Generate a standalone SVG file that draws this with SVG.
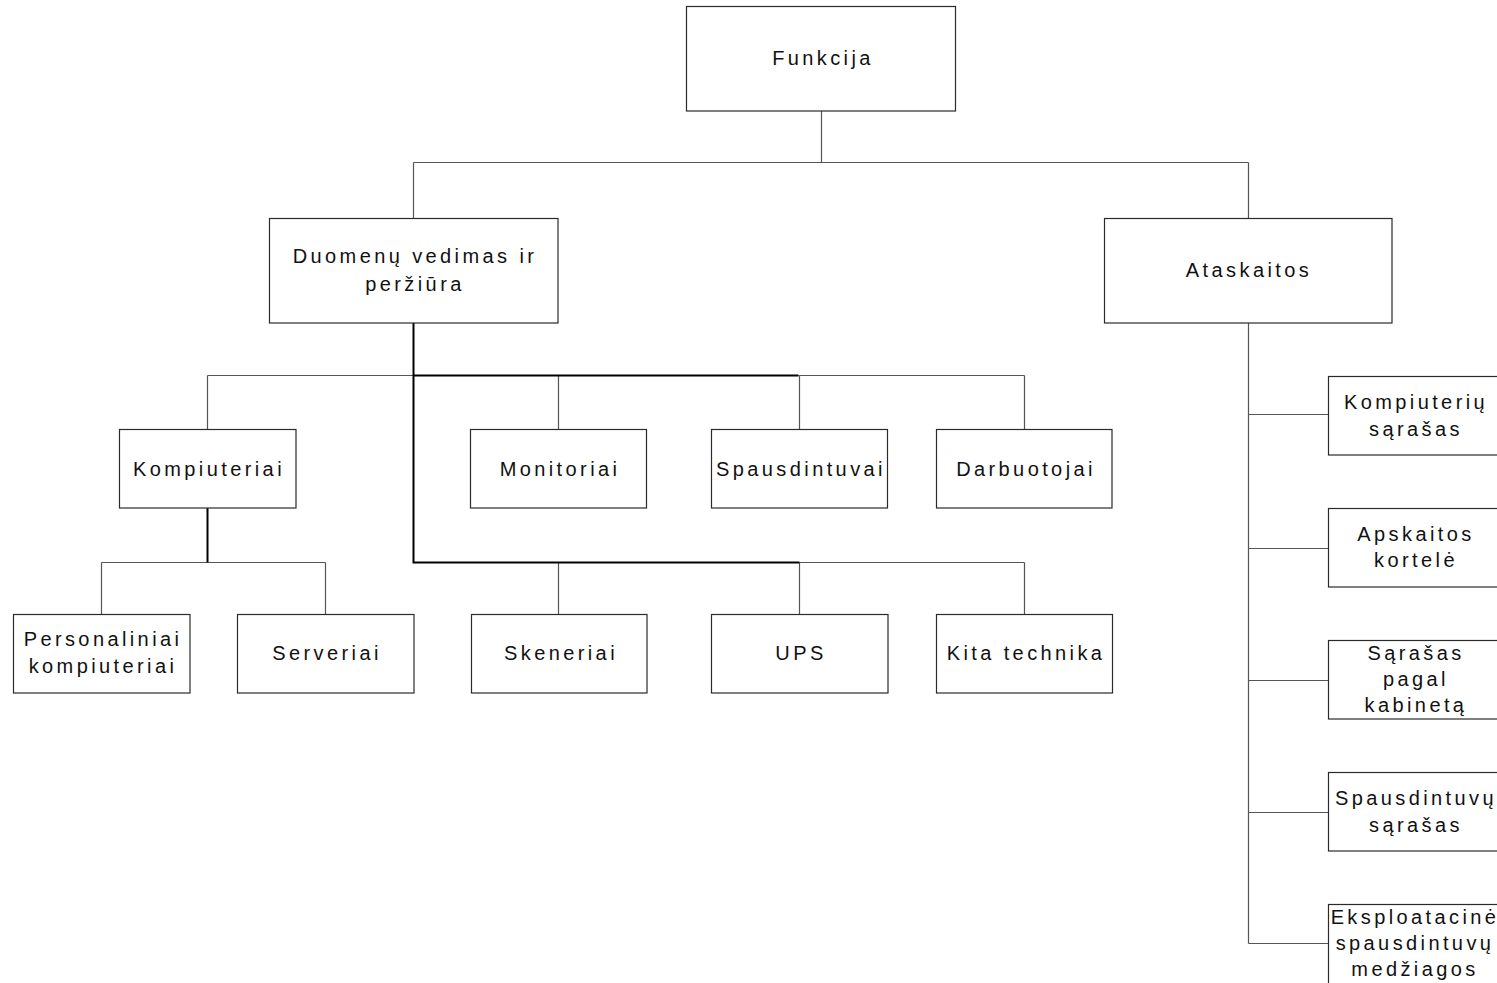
<svg xmlns="http://www.w3.org/2000/svg" width="1497" height="983" viewBox="0 0 1497 983">
  <style>
    .box { fill: #ffffff; stroke: #2b2b2b; stroke-width: 1.2; }
    .lbl { font-family: "Liberation Sans", Arial, sans-serif; font-size: 20px; letter-spacing: 3.4px; fill: #111111; text-anchor: middle; }
    .thin { fill: none; stroke: #555555; stroke-width: 1.2; }
    .thick { fill: none; stroke: #000000; stroke-width: 2; }
  </style>
  <rect width="1497" height="983" fill="#ffffff"/>

  <!-- connectors -->
  <g id="connectors">
    <path class="thin" d="M821.5 111 V162.5 M413.5 162.5 H1248.5 M413.5 162.5 V218 M1248.5 162.5 V218"/>
    <path class="thin" d="M207.5 375.5 H413.5 M798.5 375.5 H1024.5 M207.5 375.5 V429 M558.5 375.5 V429 M799.5 375.5 V429 M1024.5 375.5 V429"/>
    <path class="thin" d="M799.5 562.5 H1024.5 M558.5 562.5 V614 M799.5 562.5 V614 M1024.5 562.5 V614"/>
    <path class="thin" d="M101.5 562.5 H325.5 M101.5 562.5 V614 M325.5 562.5 V614"/>
    <path class="thick" d="M413.5 323 V562.5 H799.5 M413.5 375.5 H798.5 M207.5 508 V562.5"/>
    <path class="thin" d="M1248.5 323 V943.5 M1248.5 414.5 H1328 M1248.5 548.5 H1328 M1248.5 680.5 H1328 M1248.5 812.5 H1328 M1248.5 943.5 H1328"/>
  </g>

  <g id="funkcija">
    <rect class="box" x="686.5" y="6.5" width="269" height="104.5"/>
    <text class="lbl" x="823" y="65">Funkcija</text>
  </g>
  <g id="duomenu-vedimas">
    <rect class="box" x="269.5" y="218.5" width="288.5" height="104.5"/>
    <text class="lbl" x="415" y="263">Duomenų vedimas ir</text>
    <text class="lbl" x="415" y="291">peržiūra</text>
  </g>
  <g id="ataskaitos">
    <rect class="box" x="1104.5" y="218.5" width="287.5" height="104.5"/>
    <text class="lbl" x="1249" y="277">Ataskaitos</text>
  </g>

  <g id="kompiuteriai">
    <rect class="box" x="119.5" y="429.5" width="176.5" height="78.5"/>
    <text class="lbl" x="209" y="476">Kompiuteriai</text>
  </g>
  <g id="monitoriai">
    <rect class="box" x="470.5" y="429.5" width="176" height="78.5"/>
    <text class="lbl" x="560" y="476">Monitoriai</text>
  </g>
  <g id="spausdintuvai">
    <rect class="box" x="711.5" y="429.5" width="176" height="78.5"/>
    <text class="lbl" x="801" y="476">Spausdintuvai</text>
  </g>
  <g id="darbuotojai">
    <rect class="box" x="936.5" y="429.5" width="175.5" height="78.5"/>
    <text class="lbl" x="1026" y="476">Darbuotojai</text>
  </g>

  <g id="personaliniai">
    <rect class="box" x="13.5" y="614.5" width="176.5" height="78.5"/>
    <text class="lbl" x="103" y="646">Personaliniai</text>
    <text class="lbl" x="103" y="673">kompiuteriai</text>
  </g>
  <g id="serveriai">
    <rect class="box" x="237.5" y="614.5" width="176.5" height="78.5"/>
    <text class="lbl" x="327" y="660">Serveriai</text>
  </g>
  <g id="skeneriai">
    <rect class="box" x="471.5" y="614.5" width="175.5" height="78.5"/>
    <text class="lbl" x="561" y="660">Skeneriai</text>
  </g>
  <g id="ups">
    <rect class="box" x="711.5" y="614.5" width="176.5" height="78.5"/>
    <text class="lbl" x="801" y="660">UPS</text>
  </g>
  <g id="kita-technika">
    <rect class="box" x="936.5" y="614.5" width="176" height="78.5"/>
    <text class="lbl" x="1026" y="660">Kita technika</text>
  </g>

  <g id="kompiuteriu-sarasas">
    <rect class="box" x="1328.5" y="376.5" width="180" height="78.5"/>
    <text class="lbl" x="1416" y="409">Kompiuterių</text>
    <text class="lbl" x="1416" y="436">sąrašas</text>
  </g>
  <g id="apskaitos-kortele">
    <rect class="box" x="1328.5" y="508.5" width="180" height="78.5"/>
    <text class="lbl" x="1416" y="541">Apskaitos</text>
    <text class="lbl" x="1416" y="567">kortelė</text>
  </g>
  <g id="sarasas-pagal-kabineta">
    <rect class="box" x="1328.5" y="640.5" width="180" height="78.5"/>
    <text class="lbl" x="1416" y="660">Sąrašas</text>
    <text class="lbl" x="1416" y="686">pagal</text>
    <text class="lbl" x="1416" y="712">kabinetą</text>
  </g>
  <g id="spausdintuvu-sarasas">
    <rect class="box" x="1328.5" y="772.5" width="180" height="78.5"/>
    <text class="lbl" x="1416" y="805">Spausdintuvų</text>
    <text class="lbl" x="1416" y="832">sąrašas</text>
  </g>
  <g id="eksploatacines-medziagos">
    <rect class="box" x="1328.5" y="904.5" width="180" height="90"/>
    <text class="lbl" x="1415" y="924">Eksploatacinė</text>
    <text class="lbl" x="1415" y="950">spausdintuvų</text>
    <text class="lbl" x="1415" y="976">medžiagos</text>
  </g>
</svg>
